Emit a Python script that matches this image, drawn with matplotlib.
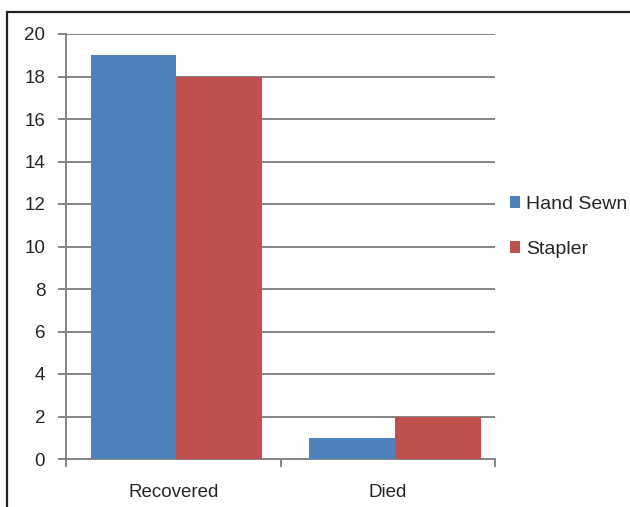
import matplotlib
matplotlib.use("Agg")
import matplotlib.pyplot as plt
from matplotlib.patches import Rectangle, Patch
import numpy as np

categories = ["Recovered", "Died"]
series_names = ["Hand Sewn", "Stapler"]
hand_sewn = [19, 1]
stapler = [18, 2]
y_ticks = [0, 2, 4, 6, 8, 10, 12, 14, 16, 18, 20]

colors = ["#4F81BD", "#C0504D"]
grid_color = "#858585"
text_color = "#262626"

plt.rcParams["font.family"] = ["Liberation Sans", "DejaVu Sans"]

fig = plt.figure(figsize=(6.30, 5.07), dpi=100)
ax = fig.add_axes([66 / 630, 1 - 459 / 507, (495 - 66) / 630, (459 - 34) / 507])

x = np.arange(len(categories))
shift = np.array([0.015, 0.035])
width = 0.4
ax.bar(x - width / 2 + shift, hand_sewn, width, color=colors[0], zorder=3)
ax.bar(x + width / 2 + shift, stapler, width, color=colors[1], zorder=3)

ax.set_xlim(-0.5, 1.5)
ax.set_ylim(0, 20)
ax.set_yticks(y_ticks)
ax.set_yticklabels([str(v) for v in y_ticks], fontsize=13.5, color=text_color)
ax.yaxis.grid(True, color=grid_color, linewidth=1.4, zorder=0)
ax.set_axisbelow(True)

ax.set_xticks(x)
ax.set_xticklabels(categories, fontsize=13.5, color=text_color)
ax.set_xticks([-0.5, 0.5, 1.5], minor=True)
ax.tick_params(axis="x", which="major", length=0, pad=18)
ax.tick_params(axis="x", which="minor", length=6, color=grid_color, width=1.4, direction="out")
ax.tick_params(axis="y", length=6, color=grid_color, width=1.4, pad=9)

for side in ["top", "right"]:
    ax.spines[side].set_visible(False)
for side in ["left", "bottom"]:
    ax.spines[side].set_color(grid_color)
    ax.spines[side].set_linewidth(1.4)

handles = [Patch(facecolor=c, edgecolor="none") for c in colors]
leg = fig.legend(handles, series_names, loc="center left",
                 bbox_to_anchor=(502 / 630, 1 - 227 / 507), frameon=False,
                 fontsize=14, handlelength=0.55, handleheight=0.55,
                 handletextpad=0.3, labelspacing=1.45, borderaxespad=0)
for t in leg.get_texts():
    t.set_color(text_color)

# Outer frame around the chart area
fig.patches.append(Rectangle((7 / 630, -0.05), 1.2, 1 - 12 / 507 + 0.05,
                             transform=fig.transFigure, fill=False,
                             edgecolor="#222222", linewidth=1.6))

fig.savefig("out.png", dpi=100)
